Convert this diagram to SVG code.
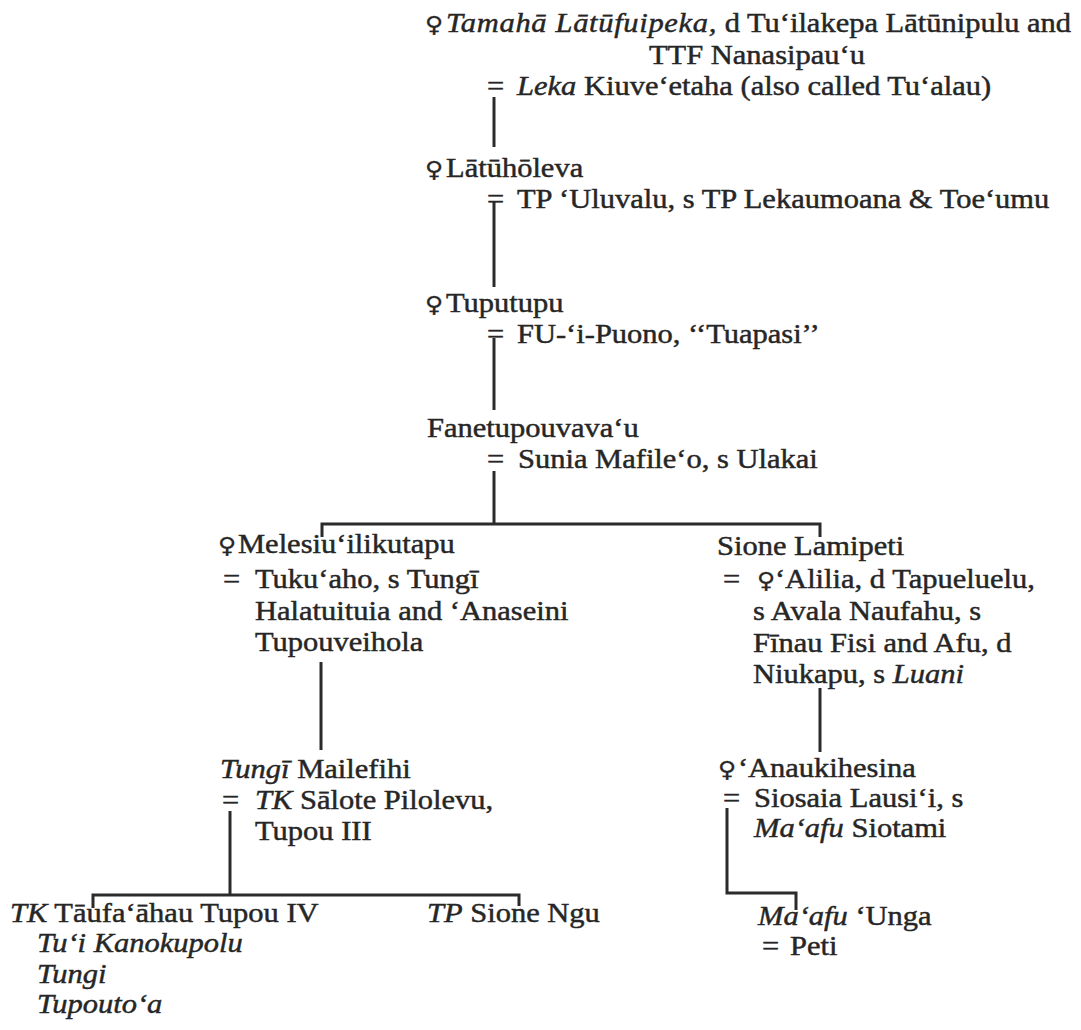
<svg xmlns="http://www.w3.org/2000/svg" width="1081" height="1030" viewBox="0 0 1081 1030">
  <style>
    text { font-family: "Liberation Serif", "Times New Roman", serif; font-size: 27px; fill: #262626; stroke: #262626; stroke-width: 0.45px; }
    .i { font-style: italic; }
    .w { letter-spacing: 0.6px; }
    .f { font-family: "DejaVu Sans", sans-serif; font-size: 22px; font-style: normal; stroke-width: 0.3px; }
    .ln { stroke: #2b2b2b; stroke-width: 3; fill: none; }
    .n { transform: scale(1.13, 1); }
  </style>
  <rect width="1081" height="1030" fill="#ffffff"/>

  <!-- descent lines -->
  <g id="connectors">
    <path class="ln" d="M494 97 V147"/>
    <path class="ln" d="M494 201 V287"/>
    <path class="ln" d="M494 338 V410"/>
    <path class="ln" d="M494 471 V524"/>
    <path class="ln" d="M322 537 V524 H820 V537"/>
    <path class="ln" d="M321 662 V750"/>
    <path class="ln" d="M230 811 V895"/>
    <path class="ln" d="M93 908 V895 H519 V906"/>
    <path class="ln" d="M820 688 V752"/>
    <path class="ln" d="M727 808 V893 H796 V910"/>
  </g>

  <!-- text x positions are given in the stretched space (page x / 1.13) -->
  <g id="tamaha" class="n">
    <text y="32"><tspan class="f" x="376.1">♀</tspan><tspan class="i w" x="394.7">Tamahā Lātūfuipeka,</tspan> d Tu‘ilakepa Lātūnipulu and</text>
    <text x="574.3" y="64">TTF Nanasipau‘u</text>
    <text y="95"><tspan x="431">=</tspan><tspan class="i" x="457.5">Leka</tspan> Kiuve‘etaha (also called Tu‘alau)</text>
  </g>

  <g id="latuholeva" class="n">
    <text y="177"><tspan class="f" x="376.1">♀</tspan><tspan x="394.7">Lātūhōleva</tspan></text>
    <text y="208"><tspan x="431">=</tspan><tspan x="457.5">TP ‘Uluvalu, s TP Lekaumoana &amp; Toe‘umu</tspan></text>
  </g>

  <g id="tuputupu" class="n">
    <text y="312"><tspan class="f" x="376.1">♀</tspan><tspan x="394.7">Tuputupu</tspan></text>
    <text y="343"><tspan x="431">=</tspan><tspan x="457.5">FU-‘i-Puono, ‘‘Tuapasi’’</tspan></text>
  </g>

  <g id="fanetupouvavau" class="n">
    <text x="377.9" y="437">Fanetupouvava‘u</text>
    <text y="468"><tspan x="431">=</tspan><tspan x="458.4">Sunia Mafile‘o, s Ulakai</tspan></text>
  </g>

  <g id="melesiu" class="n">
    <text y="553"><tspan class="f" x="192.9">♀</tspan><tspan x="210.6">Melesiu‘ilikutapu</tspan></text>
    <text y="588"><tspan x="197.3">=</tspan><tspan x="225.7">Tuku‘aho, s Tungī</tspan></text>
    <text x="225.7" y="620">Halatuituia and ‘Anaseini</text>
    <text x="225.7" y="651">Tupouveihola</text>
  </g>

  <g id="sione-lamipeti" class="n">
    <text x="634.5" y="555">Sione Lamipeti</text>
    <text y="588"><tspan x="639.8">=</tspan><tspan class="f" x="669.9">♀</tspan><tspan x="685.8">‘Alilia, d Tapueluelu,</tspan></text>
    <text x="666.4" y="620">s Avala Naufahu, s</text>
    <text x="666.4" y="652">Fīnau Fisi and Afu, d</text>
    <text x="666.4" y="683">Niukapu, s <tspan class="i">Luani</tspan></text>
  </g>

  <g id="tungi-mailefihi" class="n">
    <text x="194.7" y="778"><tspan class="i">Tungī</tspan> Mailefihi</text>
    <text y="809"><tspan x="196.5">=</tspan><tspan class="i" x="225.7">TK</tspan> Sālote Pilolevu,</text>
    <text x="225.7" y="840">Tupou III</text>
  </g>

  <g id="anaukihesina" class="n">
    <text y="777"><tspan class="f" x="635.4">♀</tspan><tspan x="653">‘Anaukihesina</tspan></text>
    <text y="807"><tspan x="639.8">=</tspan><tspan x="667.3">Siosaia Lausi‘i, s</tspan></text>
    <text x="667.3" y="837"><tspan class="i">Ma‘afu</tspan> Siotami</text>
  </g>

  <g id="taufaahau" class="n">
    <text x="8.8" y="922"><tspan class="i">TK</tspan> Tāufa‘āhau Tupou IV</text>
    <text class="i" x="32.7" y="952">Tu‘i Kanokupolu</text>
    <text class="i" x="32.7" y="983">Tungi</text>
    <text class="i" x="32.7" y="1013">Tupouto‘a</text>
  </g>

  <g id="sione-ngu" class="n">
    <text x="377.9" y="922"><tspan class="i">TP</tspan> Sione Ngu</text>
  </g>

  <g id="maafu-unga" class="n">
    <text x="670.8" y="925"><tspan class="i">Ma‘afu</tspan> ‘Unga</text>
    <text y="955"><tspan x="674.3">=</tspan><tspan x="699.1">Peti</tspan></text>
  </g>
</svg>
